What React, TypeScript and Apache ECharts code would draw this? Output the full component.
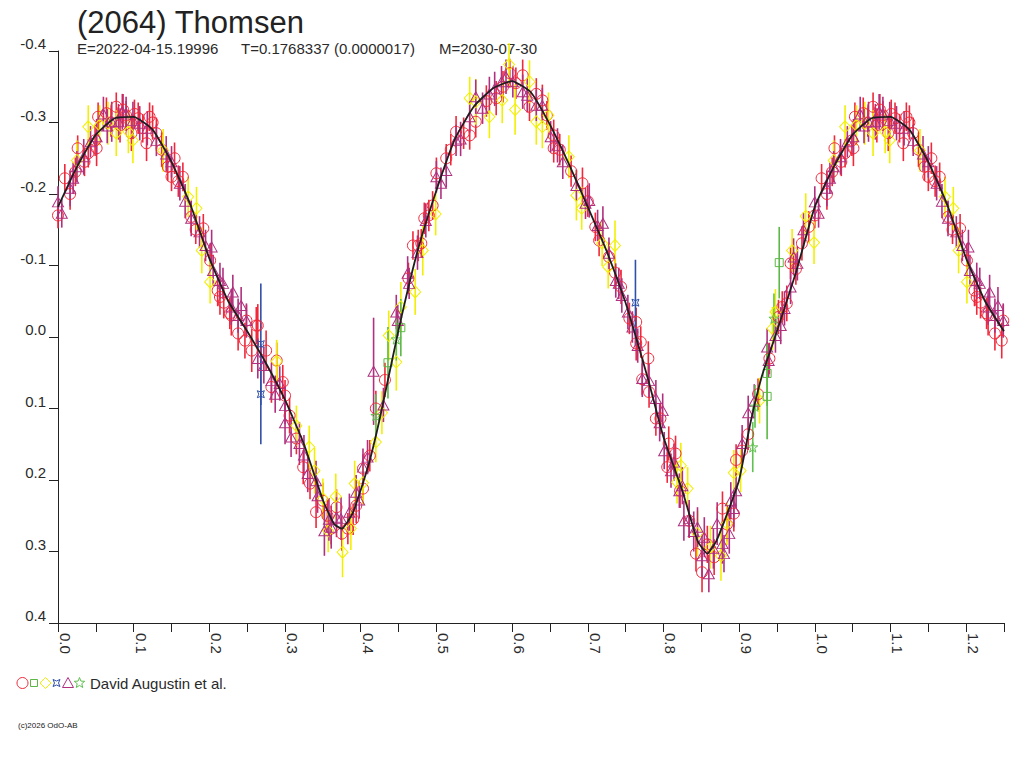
import React, { useEffect, useRef } from "react";
import * as echarts from "echarts";

// ---- data (phase, magnitude, error) ----
const RED: number[][] = [
  [0.000,-0.170,0.018],[0.009,-0.222,0.020],[0.016,-0.200,0.022],[0.023,-0.231,0.020],[0.026,-0.264,0.018],
  [0.035,-0.245,0.020],[0.040,-0.257,0.020],[0.049,-0.275,0.022],[0.051,-0.264,0.025],[0.053,-0.308,0.020],
  [0.064,-0.313,0.022],[0.070,-0.300,0.020],[0.077,-0.322,0.020],[0.082,-0.296,0.024],[0.086,-0.318,0.022],
  [0.090,-0.310,0.020],[0.097,-0.285,0.025],[0.101,-0.312,0.020],[0.106,-0.306,0.022],[0.112,-0.292,0.020],
  [0.117,-0.271,0.025],[0.121,-0.308,0.020],[0.125,-0.300,0.024],[0.130,-0.285,0.022],[0.137,-0.262,0.024],
  [0.145,-0.238,0.020],[0.150,-0.224,0.020],[0.154,-0.250,0.022],[0.159,-0.218,0.022],[0.165,-0.224,0.020],
  [0.176,-0.168,0.022],[0.182,-0.150,0.020],[0.192,-0.152,0.020],[0.201,-0.107,0.024],[0.211,-0.065,0.022],
  [0.214,-0.056,0.025],[0.219,-0.048,0.022],[0.227,-0.033,0.022],[0.229,-0.030,0.028],[0.238,-0.005,0.024],
  [0.247,0.005,0.025],[0.249,-0.023,0.022],[0.256,0.019,0.030],[0.262,-0.016,0.026],[0.264,-0.016,0.030],
  [0.275,0.019,0.028],[0.282,0.070,0.022],[0.289,0.033,0.025],[0.297,0.063,0.024],[0.300,0.082,0.022],
  [0.306,0.110,0.025],[0.315,0.142,0.022],[0.324,0.182,0.024],[0.333,0.205,0.022],[0.341,0.245,0.022],
  [0.350,0.229,0.025],[0.356,0.250,0.024],[0.361,0.268,0.022],[0.368,0.238,0.025],[0.375,0.275,0.024],
  [0.383,0.268,0.022],[0.390,0.255,0.022],[0.394,0.236,0.024],[0.403,0.212,0.022],[0.403,0.184,0.020],
  [0.412,0.166,0.022],[0.420,0.100,0.025],[0.432,0.060,0.024],[0.463,-0.082,0.022],[0.469,-0.128,0.020],
  [0.476,-0.128,0.022],[0.480,-0.131,0.020],[0.484,-0.166,0.022],[0.490,-0.170,0.022],[0.495,-0.184,0.020],
  [0.500,-0.229,0.022],[0.513,-0.250,0.020],[0.519,-0.262,0.022],[0.526,-0.287,0.022],[0.536,-0.285,0.022],
  [0.544,-0.282,0.020],[0.552,-0.301,0.022],[0.566,-0.330,0.022],[0.579,-0.334,0.024],[0.588,-0.350,0.022],
  [0.597,-0.369,0.020],[0.605,-0.355,0.022],[0.614,-0.366,0.022],[0.623,-0.322,0.020],[0.632,-0.340,0.022],
  [0.640,-0.331,0.022],[0.646,-0.310,0.020],[0.655,-0.282,0.022],[0.655,-0.264,0.020],[0.663,-0.262,0.022],
  [0.678,-0.232,0.022],[0.693,-0.215,0.022],[0.700,-0.190,0.022],[0.710,-0.154,0.020],[0.715,-0.135,0.022],
  [0.728,-0.112,0.020],[0.736,-0.090,0.022],[0.744,-0.070,0.024],[0.755,-0.026,0.022],[0.764,-0.021,0.020],
  [0.764,0.009,0.024],[0.770,0.007,0.022],[0.772,0.059,0.022],[0.780,0.030,0.024],[0.781,0.077,0.022],
  [0.790,0.114,0.024],[0.796,0.114,0.022],[0.805,0.182,0.022],[0.807,0.149,0.024],[0.816,0.163,0.025],
  [0.822,0.215,0.024],[0.834,0.257,0.024],[0.843,0.303,0.025],[0.851,0.329,0.028],[0.858,0.290,0.026],
  [0.867,0.308,0.025],[0.878,0.240,0.024],[0.884,0.262,0.024],[0.893,0.247,0.025],[0.896,0.172,0.022],
  [0.904,0.159,0.024],[0.912,0.136,0.022],[0.925,0.080,0.022],[0.940,0.030,0.022],[0.952,-0.028,0.024],
  [0.957,-0.042,0.022],[0.963,-0.047,0.025],[0.968,-0.103,0.022],[0.975,-0.095,0.022],[0.983,-0.131,0.024],
  [0.992,-0.154,0.022],
];

const PURPLE: number[][] = [
  [0.000,-0.189,0.022],[0.005,-0.173,0.020],[0.016,-0.208,0.025],[0.020,-0.222,0.022],[0.025,-0.238,0.022],
  [0.034,-0.252,0.025],[0.043,-0.273,0.022],[0.051,-0.280,0.025],[0.060,-0.312,0.024],[0.065,-0.295,0.024],
  [0.071,-0.301,0.028],[0.080,-0.301,0.025],[0.085,-0.315,0.025],[0.090,-0.312,0.024],[0.099,-0.303,0.026],
  [0.108,-0.299,0.024],[0.118,-0.292,0.024],[0.130,-0.275,0.022],[0.143,-0.256,0.025],[0.150,-0.245,0.022],
  [0.161,-0.215,0.024],[0.168,-0.190,0.024],[0.176,-0.166,0.025],[0.187,-0.147,0.022],[0.195,-0.128,0.022],
  [0.203,-0.126,0.024],[0.205,-0.093,0.022],[0.214,-0.079,0.025],[0.218,-0.075,0.022],[0.229,-0.042,0.025],
  [0.231,-0.063,0.024],[0.238,-0.030,0.024],[0.242,-0.044,0.026],[0.249,-0.023,0.024],[0.264,0.030,0.028],
  [0.272,0.040,0.025],[0.282,0.061,0.025],[0.287,0.080,0.026],[0.293,0.065,0.024],[0.300,0.096,0.026],
  [0.300,0.120,0.030],[0.308,0.140,0.028],[0.319,0.149,0.030],[0.325,0.165,0.028],[0.330,0.191,0.026],
  [0.341,0.201,0.028],[0.343,0.222,0.024],[0.352,0.271,0.035],[0.358,0.255,0.030],[0.361,0.266,0.030],
  [0.368,0.252,0.028],[0.374,0.254,0.030],[0.385,0.245,0.026],[0.394,0.217,0.024],[0.398,0.228,0.026],
  [0.403,0.182,0.026],[0.409,0.168,0.024],[0.417,0.048,0.075],[0.430,0.095,0.024],[0.447,-0.035,0.024],
  [0.449,-0.023,0.022],[0.462,-0.089,0.024],[0.464,-0.075,0.022],[0.475,-0.118,0.024],[0.486,-0.163,0.024],
  [0.500,-0.224,0.022],[0.506,-0.215,0.022],[0.513,-0.233,0.024],[0.526,-0.275,0.022],[0.532,-0.277,0.024],
  [0.544,-0.308,0.022],[0.552,-0.336,0.024],[0.561,-0.320,0.022],[0.570,-0.340,0.024],[0.577,-0.347,0.024],
  [0.586,-0.357,0.022],[0.592,-0.364,0.024],[0.601,-0.357,0.022],[0.614,-0.343,0.024],[0.620,-0.338,0.024],
  [0.632,-0.324,0.022],[0.640,-0.324,0.024],[0.651,-0.280,0.022],[0.660,-0.268,0.024],[0.667,-0.245,0.024],
  [0.685,-0.212,0.022],[0.697,-0.187,0.022],[0.702,-0.191,0.024],[0.713,-0.156,0.022],[0.720,-0.159,0.024],
  [0.728,-0.117,0.022],[0.737,-0.079,0.024],[0.741,-0.075,0.022],[0.745,-0.058,0.024],[0.753,-0.035,0.024],
  [0.759,-0.014,0.022],[0.766,0.012,0.024],[0.772,0.058,0.026],[0.781,0.061,0.024],[0.790,0.086,0.026],
  [0.795,0.120,0.026],[0.799,0.103,0.024],[0.801,0.159,0.026],[0.810,0.187,0.024],[0.814,0.175,0.026],
  [0.821,0.215,0.024],[0.825,0.208,0.026],[0.827,0.257,0.028],[0.834,0.254,0.026],[0.840,0.272,0.028],
  [0.845,0.266,0.028],[0.851,0.306,0.030],[0.854,0.280,0.028],[0.860,0.331,0.026],[0.866,0.296,0.028],
  [0.871,0.261,0.030],[0.878,0.289,0.028],[0.880,0.303,0.026],[0.887,0.275,0.028],[0.889,0.229,0.026],
  [0.893,0.240,0.026],[0.896,0.215,0.024],[0.904,0.149,0.026],[0.912,0.106,0.024],[0.920,0.090,0.024],
  [0.937,0.014,0.026],[0.939,0.033,0.024],[0.948,-0.002,0.024],[0.955,-0.016,0.026],[0.960,-0.040,0.024],
  [0.968,-0.070,0.024],[0.972,-0.112,0.026],[0.977,-0.103,0.024],[0.985,-0.150,0.024],
];

const YELLOW: number[][] = [
  [0.025,-0.247,0.028],[0.040,-0.294,0.030],[0.055,-0.296,0.028],[0.066,-0.299,0.030],[0.077,-0.285,0.032],
  [0.093,-0.287,0.030],[0.099,-0.275,0.032],[0.139,-0.261,0.030],[0.172,-0.196,0.028],[0.183,-0.180,0.030],
  [0.190,-0.121,0.032],[0.201,-0.077,0.030],[0.289,0.034,0.030],[0.315,0.124,0.028],[0.332,0.154,0.030],
  [0.339,0.187,0.032],[0.350,0.226,0.028],[0.357,0.271,0.030],[0.367,0.223,0.032],[0.376,0.301,0.035],
  [0.387,0.268,0.030],[0.392,0.205,0.032],[0.403,0.204,0.030],[0.420,0.147,0.028],[0.428,0.106,0.030],
  [0.437,-0.002,0.035],[0.447,0.035,0.040],[0.453,-0.042,0.035],[0.472,-0.063,0.032],[0.482,-0.121,0.035],
  [0.499,-0.172,0.030],[0.544,-0.334,0.030],[0.552,-0.329,0.032],[0.570,-0.308,0.030],[0.587,-0.331,0.032],
  [0.596,-0.381,0.030],[0.604,-0.318,0.035],[0.623,-0.357,0.030],[0.632,-0.301,0.032],[0.640,-0.294,0.030],
  [0.648,-0.310,0.032],[0.675,-0.252,0.030],[0.685,-0.198,0.035],[0.692,-0.180,0.030],[0.719,-0.131,0.032],
  [0.727,-0.098,0.030],[0.736,-0.128,0.035],[0.818,0.203,0.030],[0.823,0.180,0.032],[0.832,0.212,0.030],
  [0.845,0.275,0.032],[0.862,0.294,0.030],[0.876,0.306,0.035],[0.884,0.261,0.030],[0.893,0.190,0.032],
  [0.902,0.187,0.030],[0.927,0.089,0.032],[0.944,-0.012,0.030],[0.948,-0.035,0.032],[0.970,-0.121,0.030],
  [0.988,-0.169,0.032],[0.999,-0.132,0.030],
];

const GREEN_SQ: number[][] = [
  [0.436,0.036,0.050],[0.453,-0.013,0.040],[0.937,0.051,0.045],[0.937,0.083,0.060],[0.953,-0.104,0.050],
];

const BLUE_STAR: number[][] = [
  [0.268,0.010,0.085],[0.268,0.080,0.070],[0.763,-0.048,0.060],
];

const GREEN_STAR: number[][] = [
  [0.420,0.110,0.030],[0.447,0.003,0.030],[0.918,0.154,0.035],[0.921,0.097,0.030],[0.946,-0.026,0.035],
];

// fitted light curve (phase, magnitude)
const FIT_PHASE = [0.000,0.025,0.050,0.075,0.100,0.125,0.150,0.175,0.200,0.225,0.250,0.275,0.300,0.325,0.350,0.365,0.375,0.390,0.410,0.425,0.450,0.475,0.500,0.525,0.550,0.575,0.600,0.625,0.650,0.675,0.700,0.725,0.750,0.765,0.780,0.800,0.825,0.845,0.858,0.870,0.885,0.900,0.915,0.930,0.950,0.975,1.000];
const FIT_MAG = [-0.182,-0.238,-0.283,-0.306,-0.308,-0.290,-0.245,-0.185,-0.110,-0.050,-0.008,0.037,0.088,0.150,0.228,0.262,0.268,0.245,0.180,0.115,-0.010,-0.120,-0.205,-0.278,-0.323,-0.348,-0.358,-0.342,-0.297,-0.242,-0.182,-0.120,-0.048,0.005,0.060,0.140,0.215,0.285,0.303,0.285,0.245,0.200,0.120,0.055,-0.008,-0.090,-0.182];

const Y_MIN = -0.4;
const Y_MAX = 0.4;
const X_MAX = 1.25;

const TITLE = "(2064) Thomsen";
const SUB_E = "E=2022-04-15.19996";
const SUB_T = "T=0.1768337 (0.0000017)";
const SUB_M = "M=2030-07-30";
const LEGEND_TEXT = "David Augustin et al.";
const CREDIT = "(c)2026 OdO-AB";

const C_RED = "#f0283a";
const C_PURPLE = "#b0307f";
const C_YELLOW = "#f2f000";
const C_GREEN = "#5cb844";
const C_BLUE = "#3050a8";
const C_GSTAR = "#60c050";
const FONT = "'Liberation Sans', Arial, Helvetica, sans-serif";

// phase-folded plot repeats phases 0..0.25 after 1.0
const wrap = (arr: number[][]) =>
  arr.concat(arr.filter((p) => p[0] <= X_MAX - 1).map((p) => [p[0] + 1, p[1], p[2]]));

const STAR5 = "path://M5,0 L6.2,3.6 L10,3.6 L7,5.9 L8.1,9.5 L5,7.3 L1.9,9.5 L3,5.9 L0,3.6 L3.8,3.6 Z";
const STAR4 = "path://M0,0 L5,2 L10,0 L8,5 L10,10 L5,8 L0,10 L2,5 Z";

function errSeries(data: number[][], color: string, width: number) {
  return {
    type: "custom",
    silent: true,
    data,
    encode: { x: 0, y: 1 },
    renderItem: (_params: any, api: any) => {
      const x = api.value(0);
      const y = api.value(1);
      const e = api.value(2);
      const p1 = api.coord([x, y - e]);
      const p2 = api.coord([x, y + e]);
      return {
        type: "line",
        shape: { x1: p1[0], y1: p1[1], x2: p2[0], y2: p2[1] },
        style: { stroke: color, lineWidth: width },
      };
    },
  };
}

function symSeries(data: number[][], color: string, symbol: string, size: any, bw = 1) {
  return {
    type: "scatter",
    silent: true,
    data: data.map((p) => [p[0], p[1]]),
    symbol,
    symbolSize: size,
    itemStyle: { color: "rgba(0,0,0,0)", borderColor: color, borderWidth: bw, opacity: 1 },
    emphasis: { disabled: true },
  };
}

export default function App() {
  const ref = useRef<HTMLDivElement>(null);
  useEffect(() => {
    if (!ref.current) return;
    const chart = echarts.init(ref.current, undefined, { renderer: "svg" });
    const red = wrap(RED);
    const purple = wrap(PURPLE);
    const yellow = wrap(YELLOW);
    const gsq = wrap(GREEN_SQ);
    const blue = wrap(BLUE_STAR);
    const gstar = wrap(GREEN_STAR);
    const fitRaw = FIT_PHASE.map((p, i) => [p, FIT_MAG[i], 0]);
    const fit = wrap(fitRaw).map((p) => [p[0], p[1]]);

    const textColor = "#2a2a2a";
    chart.setOption({
      animation: false,
      backgroundColor: "#ffffff",
      grid: { left: 58, right: 20, top: 51, bottom: 145 },
      xAxis: {
        type: "value",
        min: 0,
        max: X_MAX,
        interval: 0.05,
        axisLine: { show: true, onZero: false, lineStyle: { color: "#222", width: 1 } },
        axisTick: { show: true, length: 9, lineStyle: { color: "#222", width: 1 } },
        splitLine: { show: false },
        axisLabel: {
          show: true,
          rotate: -90,
          margin: 10,
          verticalAlign: "bottom",
          color: textColor,
          fontSize: 15,
          fontFamily: FONT,
          formatter: (v: number) => {
            const k = Math.round(v * 20);
            return k % 2 === 0 ? (k / 20).toFixed(1) : "";
          },
        },
      },
      yAxis: {
        type: "value",
        inverse: true,
        min: Y_MIN,
        max: Y_MAX,
        interval: 0.1,
        axisLine: { show: true, onZero: false, lineStyle: { color: "#222", width: 1 } },
        axisTick: { show: true, length: 9, lineStyle: { color: "#222", width: 1 } },
        splitLine: { show: false },
        axisLabel: {
          show: true,
          margin: 12,
          verticalAlign: "bottom",
          lineHeight: 15,
          color: textColor,
          fontSize: 15,
          fontFamily: FONT,
          formatter: (v: number) => v.toFixed(1),
        },
      },
      series: [
        errSeries(red, C_RED, 1.6),
        symSeries(red, C_RED, "circle", 11),
        errSeries(yellow, C_YELLOW, 1.6),
        symSeries(yellow, C_YELLOW, "diamond", [11, 12]),
        errSeries(purple, C_PURPLE, 1.6),
        symSeries(purple, C_PURPLE, "triangle", [11, 10]),
        errSeries(gsq, C_GREEN, 1.6),
        symSeries(gsq, C_GREEN, "rect", 8),
        errSeries(blue, C_BLUE, 1.6),
        symSeries(blue, C_BLUE, STAR4, 7),
        errSeries(gstar, C_GSTAR, 1.6),
        symSeries(gstar, C_GSTAR, STAR5, 10),
        {
          type: "line",
          silent: true,
          data: fit,
          showSymbol: false,
          symbol: "none",
          smooth: 0.15,
          lineStyle: { color: "#1e1e1e", width: 1.8 },
          z: 5,
        },
      ],
      graphic: [
        { type: "text", x: 77, y: 22, style: { text: TITLE, fontSize: 31, fontFamily: FONT, fill: "#222", verticalAlign: "middle" } },
        { type: "text", x: 77, y: 48, style: { text: SUB_E, fontSize: 15, fontFamily: FONT, fill: textColor, verticalAlign: "middle" } },
        { type: "text", x: 241, y: 48, style: { text: SUB_T, fontSize: 15, fontFamily: FONT, fill: textColor, verticalAlign: "middle" } },
        { type: "text", x: 439, y: 48, style: { text: SUB_M, fontSize: 15, fontFamily: FONT, fill: textColor, verticalAlign: "middle" } },
        // legend symbols
        { type: "circle", shape: { cx: 22.5, cy: 683, r: 5.5 }, style: { fill: "none", stroke: C_RED, lineWidth: 1 } },
        { type: "rect", shape: { x: 30.5, y: 679.5, width: 7, height: 7 }, style: { fill: "none", stroke: C_GREEN, lineWidth: 1 } },
        { type: "polygon", shape: { points: [[45.5, 677.5], [51, 683], [45.5, 688.5], [40, 683]] }, style: { fill: "none", stroke: C_YELLOW, lineWidth: 1 } },
        { type: "polygon", shape: { points: [[53, 679.5], [56.5, 681], [60, 679.5], [58.5, 683], [60, 686.5], [56.5, 685], [53, 686.5], [54.5, 683]] }, style: { fill: "none", stroke: C_BLUE, lineWidth: 1 } },
        { type: "polygon", shape: { points: [[68, 677.5], [73.5, 687.5], [62.5, 687.5]] }, style: { fill: "none", stroke: C_PURPLE, lineWidth: 1 } },
        { type: "polygon", shape: { points: [[79.5, 677.5], [80.9, 681.1], [84.7, 681.3], [81.8, 683.7], [82.7, 687.5], [79.5, 685.4], [76.3, 687.5], [77.2, 683.7], [74.3, 681.3], [78.1, 681.1]] }, style: { fill: "none", stroke: C_GSTAR, lineWidth: 1 } },
        { type: "text", x: 90, y: 683, style: { text: LEGEND_TEXT, fontSize: 15, fontFamily: FONT, fill: textColor, verticalAlign: "middle" } },
        { type: "text", x: 18, y: 725, style: { text: CREDIT, fontSize: 8, fontFamily: FONT, fill: "#222", verticalAlign: "middle" } },
      ],
    });
    return () => chart.dispose();
  }, []);
  return (
    <div
      ref={ref}
      style={{ position: "absolute", left: 0, top: 0, width: 1024, height: 768, background: "#fff" }}
    />
  );
}
